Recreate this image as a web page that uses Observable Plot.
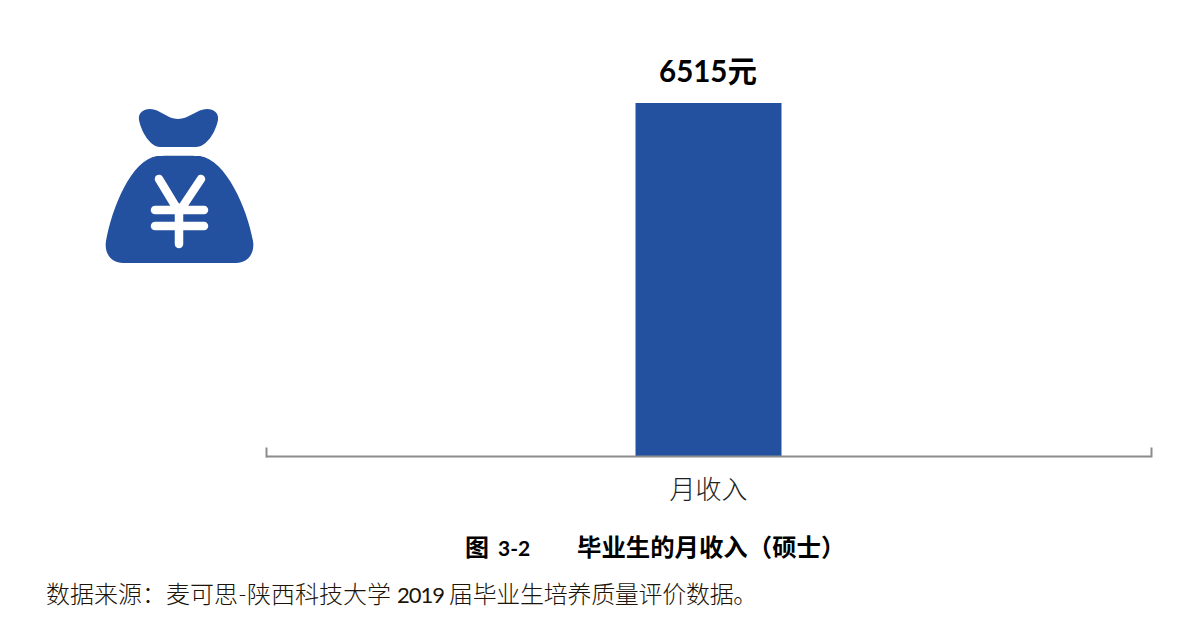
<!DOCTYPE html>
<html lang="zh">
<head>
<meta charset="utf-8">
<script src="https://cdn.jsdelivr.net/npm/d3@7"></script>
<script src="https://cdn.jsdelivr.net/npm/@observablehq/plot@0.6"></script>
<style>
html,body{margin:0;padding:0;background:#fff;width:1203px;height:626px;overflow:hidden}
body{position:relative;font-family:Lato,"Noto Sans CJK SC",sans-serif;color:#000}
#chart svg{display:block;position:absolute;left:0;top:0}
#icon{position:absolute;left:0;top:0}
.cap{position:absolute;white-space:pre;font-size:24px;line-height:30px}
#title{left:465px;top:532px;font-weight:700;font-size:24px}
#title .num{font-size:21px;margin-left:9px}
#title .name{position:absolute;left:112px;top:0;font-size:24.4px}
#source{left:46px;top:579px;color:#1c1408;font-weight:300}
#source .num{font-size:22px;font-weight:400;letter-spacing:-1px;margin:0 5px 0 6px}
#source .rest{letter-spacing:-.3px}
</style>
</head>
<body>
<div id="chart"></div>
<svg id="icon" width="300" height="300" viewBox="0 0 300 300">
  <path fill="#23509f" d="M139 120C138 113 143 109 150 109C160 109 167 119 178 119C189 119 197 109 207 109C214 109 219 113 218 120C216 131 207 147 196 147L160 147C150 147 141 131 139 120Z"/>
  <path fill="#23509f" d="M157 156C160 155.500 197 155.500 200 156C226 160 247 208 253 241C255 253 248 263 236 263L123 263C111 263 104 253 106 241C112 208 131 160 157 156Z"/>
  <path fill="none" stroke="#fff" stroke-width="8.500" stroke-linecap="round" stroke-linejoin="round" d="M159 179L179 212L201 179M155 210L204 210M155 226L204 226M179 208L179 244"/>
</svg>
<div id="title" class="cap">图<span class="num">3-2</span><span class="name">毕业生的月收入（硕士）</span></div>
<div id="source" class="cap">数据来源：麦可思-陕西科技大学<span class="num">2019</span><span class="rest">届毕业生培养质量评价数据。</span></div>
<script>
const categories = ["月收入"];
const values = [6515];
const unit = "元";
const rows = categories.map((name, i) => ({name, value: values[i]}));

const axisColor = "#8c8c8c";
const chart = Plot.plot({
  width: 1203,
  height: 520,
  marginTop: 103,
  marginBottom: 64,
  marginLeft: 266,
  marginRight: 52,
  style: {background: "transparent", fontFamily: 'Lato,"Noto Sans CJK SC",sans-serif'},
  x: {domain: categories, padding: 0.7167, label: null, axis: null},
  y: {domain: [0, 6515], axis: null},
  marks: [
    Plot.barY(rows, {x: "name", y: "value", fill: "#23509f", dx: -0.5}),
    Plot.ruleY([0], {stroke: axisColor, strokeWidth: 2}),
    Plot.frame({anchor: "left", stroke: axisColor, strokeWidth: 2, insetTop: 345}),
    Plot.frame({anchor: "right", stroke: axisColor, strokeWidth: 2, insetTop: 345}),
    Plot.text(rows, {x: "name", y: "value", text: d => d.value + unit, dy: -31, dx: -1.5, fontSize: 29.5, fontWeight: 700, fill: "#000"}),
    Plot.axisX({anchor: "bottom", tickSize: 0, tickPadding: 24, dx: -1, fontSize: 26, fontWeight: 300, color: "#222", label: null})
  ]
});
document.getElementById("chart").append(chart);
</script>
</body>
</html>
